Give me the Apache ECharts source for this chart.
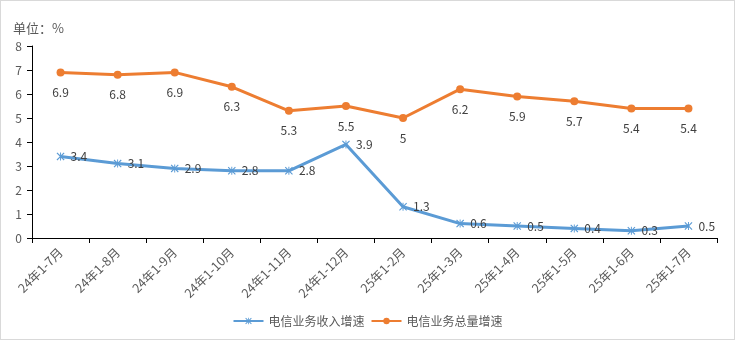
<!DOCTYPE html>
<html><head><meta charset="utf-8">
<script src="https://cdn.jsdelivr.net/npm/echarts@6/dist/echarts.min.js"></script>
<style>html,body{margin:0;padding:0;background:#fff}#c{width:733px;height:338px;border:1px solid #d9d9d9}</style>
</head><body><div id="c"></div>
<script>
const categories = ['24年1-7月','24年1-8月','24年1-9月','24年1-10月','24年1-11月','24年1-12月','25年1-2月','25年1-3月','25年1-4月','25年1-5月','25年1-6月','25年1-7月'];
const revenueGrowth = [3.4,3.1,2.9,2.8,2.8,3.9,1.3,0.6,0.5,0.4,0.3,0.5];
const volumeGrowth = [6.9,6.8,6.9,6.3,5.3,5.5,5,6.2,5.9,5.7,5.4,5.4];
const seriesNames = ['电信业务收入增速','电信业务总量增速'];
const unitText = '单位：%';
const font = "'Noto Sans CJK SC', 'DejaVu Sans', sans-serif";
const chart = echarts.init(document.getElementById('c'));
const xPath = 'path://M0,1L1,0L5,4L9,0L10,1L6,5L10,9L9,10L5,6L1,10L0,9L4,5ZM4.4,0H5.6V10H4.4Z';
chart.setOption({
  animation:false,
  textStyle:{fontFamily:font},
  title:{text:unitText,left:7,top:16,textStyle:{fontSize:13,fontWeight:'normal',color:'#595959',fontFamily:font}},
  grid:{left:31,right:17,top:45,bottom:101},
  legend:{bottom:7,left:'center',itemWidth:30,itemHeight:8,itemGap:6,textStyle:{fontSize:12,color:'#595959'},data:seriesNames},
  xAxis:{type:'category',data:categories,boundaryGap:true,
    axisLine:{lineStyle:{color:'#000',width:1}},
    axisTick:{show:true,length:5,lineStyle:{color:'#000'}},
    axisLabel:{rotate:45,color:'#595959',fontSize:12.5,margin:12,interval:0}},
  yAxis:{type:'value',min:0,max:8,interval:1,
    axisLine:{show:true,lineStyle:{color:'#000'}},
    axisTick:{show:true,length:5,lineStyle:{color:'#000'}},
    splitLine:{show:false},
    axisLabel:{color:'#595959',fontSize:12,margin:10}},
  series:[
    {name:seriesNames[0],type:'line',data:revenueGrowth,symbol:xPath,symbolSize:8,
      lineStyle:{color:'#5b9bd5',width:3},itemStyle:{color:'#5b9bd5'},
      label:{show:true,position:'right',distance:6,color:'#404040',fontSize:12}},
    {name:seriesNames[1],type:'line',data:volumeGrowth,symbol:'circle',symbolSize:8,
      lineStyle:{color:'#ed7d31',width:3},itemStyle:{color:'#ed7d31'},
      label:{show:true,position:'bottom',distance:10,color:'#404040',fontSize:12}}
  ]
});
</script></body></html>
